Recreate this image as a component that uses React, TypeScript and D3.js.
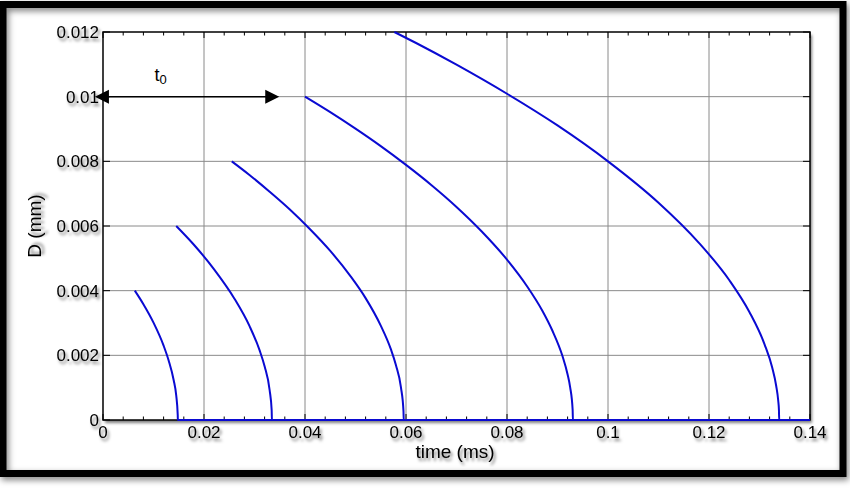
import React, { useRef, useEffect } from "react";
import * as d3 from "d3";

// droplet diameter vs time: [time (ms), D (mm)]
const curve1 = [
  [0.0063, 0.004], [0.008, 0.00358], [0.01, 0.00301], [0.012, 0.0023], [0.013, 0.00184],
  [0.014, 0.00123], [0.0145, 0.00076], [0.0148, 0.00015], [0.01482, 0], [0.14, 0],
];
const curve2 = [
  [0.0145, 0.006], [0.018, 0.00542], [0.022, 0.00466], [0.026, 0.00376], [0.029, 0.00291],
  [0.031, 0.00216], [0.032, 0.00166], [0.033, 0.00092], [0.0334, 0.0003], [0.03345, 0], [0.14, 0],
];
const curve3 = [
  [0.0255, 0.008], [0.029, 0.00758], [0.033, 0.00706], [0.037, 0.00651], [0.041, 0.0059],
  [0.045, 0.00523], [0.049, 0.00445], [0.052, 0.00377], [0.055, 0.00292], [0.057, 0.00219],
  [0.058, 0.0017], [0.059, 0.00101], [0.0595, 0.00028], [0.05955, 0], [0.14, 0],
];
const curve4 = [
  [0.04, 0.01], [0.045, 0.00952], [0.05, 0.00901], [0.055, 0.00847], [0.06, 0.00789],
  [0.065, 0.00727], [0.07, 0.00659], [0.075, 0.00583], [0.08, 0.00496], [0.084, 0.00413],
  [0.087, 0.00338], [0.089, 0.00276], [0.091, 0.00197], [0.092, 0.00141], [0.0925, 0.00102],
  [0.093, 0.00031], [0.09305, 0], [0.14, 0],
];
const curve5 = [
  [0.0577, 0.012], [0.062, 0.01166], [0.07, 0.01099], [0.08, 0.01009], [0.09, 0.00911],
  [0.1, 0.008], [0.11, 0.00672], [0.118, 0.00548], [0.124, 0.00433], [0.128, 0.00334],
  [0.131, 0.00234], [0.1325, 0.00163], [0.1333, 0.00106], [0.1337, 0.00061], [0.13385, 0.00031],
  [0.1339, 0], [0.14, 0],
];
const curves = [curve1, curve2, curve3, curve4, curve5];

const xTicks = [0, 0.02, 0.04, 0.06, 0.08, 0.1, 0.12, 0.14];
const xTickLabels = ["0", "0.02", "0.04", "0.06", "0.08", "0.1", "0.12", "0.14"];
const yTicks = [0, 0.002, 0.004, 0.006, 0.008, 0.01, 0.012];
const yTickLabels = ["0", "0.002", "0.004", "0.006", "0.008", "0.01", "0.012"];

// the t0 arrow, in data units
const arrowStart = [-0.0016, 0.01];
const arrowEnd = [0.0349, 0.01];
const arrowLabelAt = [0.0102, 0.0105];

function App() {
  const svgRef = useRef(null);

  useEffect(() => {
    const svg = d3.select(svgRef.current);
    svg.selectAll("*").remove();
    const font = "'Liberation Sans', Arial, Helvetica, sans-serif";

    const x = d3.scaleLinear().domain([0, 0.14]).range([103, 810]);
    const y = d3.scaleLinear().domain([0, 0.012]).range([420, 32]);

    const defs = svg.append("defs");
    defs.append("filter").attr("id", "sh")
      .attr("x", "-20%").attr("y", "-20%").attr("width", "140%").attr("height", "140%")
      .append("feDropShadow")
      .attr("dx", 2).attr("dy", 3).attr("stdDeviation", 1.8)
      .attr("flood-color", "#000").attr("flood-opacity", 0.5);
    defs.append("filter").attr("id", "frameSh")
      .attr("x", "-5%").attr("y", "-5%").attr("width", "110%").attr("height", "110%")
      .append("feDropShadow")
      .attr("dx", 2).attr("dy", 3).attr("stdDeviation", 3)
      .attr("flood-color", "#000").attr("flood-opacity", 0.5);

    svg.append("rect").attr("width", 850).attr("height", 488).attr("fill", "#fff");

    // outer frame
    svg.append("rect")
      .attr("x", 3).attr("y", 4.5).attr("width", 840).attr("height", 469)
      .attr("fill", "none").attr("stroke", "#000").attr("stroke-width", 7)
      .attr("filter", "url(#frameSh)");

    // plot background with shadow
    svg.append("rect")
      .attr("x", x(0)).attr("y", y(0.012))
      .attr("width", x(0.14) - x(0)).attr("height", y(0) - y(0.012))
      .attr("fill", "#fff").attr("filter", "url(#sh)");

    // grid
    svg.append("g").selectAll("line")
      .data(xTicks.slice(1, -1))
      .join("line")
      .attr("x1", d => x(d)).attr("x2", d => x(d))
      .attr("y1", y(0)).attr("y2", y(0.012))
      .attr("stroke", "#8a8a8a").attr("stroke-width", 1);
    svg.append("g").selectAll("line")
      .data(yTicks.slice(1, -1))
      .join("line")
      .attr("y1", d => y(d)).attr("y2", d => y(d))
      .attr("x1", x(0)).attr("x2", x(0.14))
      .attr("stroke", "#8a8a8a").attr("stroke-width", 1);

    // ticks (inward, all four sides)
    const ticks = svg.append("g").attr("stroke", "#000").attr("stroke-width", 1);
    const minorX = d3.range(0, 0.1401, 0.004);
    minorX.forEach(t => {
      const major = xTicks.some(v => Math.abs(v - t) < 1e-9);
      const len = major ? 6 : 3.5;
      ticks.append("line").attr("x1", x(t)).attr("x2", x(t)).attr("y1", y(0)).attr("y2", y(0) - len);
      ticks.append("line").attr("x1", x(t)).attr("x2", x(t)).attr("y1", y(0.012)).attr("y2", y(0.012) + len);
    });
    yTicks.forEach(v => {
      ticks.append("line").attr("x1", x(0)).attr("x2", x(0) + 7).attr("y1", y(v)).attr("y2", y(v));
      ticks.append("line").attr("x1", x(0.14)).attr("x2", x(0.14) - 7).attr("y1", y(v)).attr("y2", y(v));
    });

    // axis box
    svg.append("rect")
      .attr("x", x(0)).attr("y", y(0.012))
      .attr("width", x(0.14) - x(0)).attr("height", y(0) - y(0.012))
      .attr("fill", "none").attr("stroke", "#000").attr("stroke-width", 1.5);

    // tick labels
    const labels = svg.append("g")
      .attr("font-family", font).attr("font-size", 17).attr("fill", "#000")
      .attr("filter", "url(#sh)");
    labels.selectAll(".xl")
      .data(xTicks)
      .join("text")
      .attr("class", "xl")
      .attr("x", d => x(d)).attr("y", 438)
      .attr("text-anchor", "middle")
      .text((d, i) => xTickLabels[i]);
    labels.selectAll(".yl")
      .data(yTicks)
      .join("text")
      .attr("class", "yl")
      .attr("x", 99).attr("y", d => y(d) + 6)
      .attr("text-anchor", "end")
      .text((d, i) => yTickLabels[i]);

    // axis titles
    svg.append("text")
      .attr("x", 455).attr("y", 458)
      .attr("text-anchor", "middle")
      .attr("font-family", font).attr("font-size", 19)
      .attr("filter", "url(#sh)")
      .text("time (ms)");
    svg.append("text")
      .attr("transform", "translate(41,226) rotate(-90)")
      .attr("text-anchor", "middle")
      .attr("font-family", font).attr("font-size", 19)
      .attr("filter", "url(#sh)")
      .text("D (mm)");

    // curves
    const line = d3.line()
      .x(d => x(d[0]))
      .y(d => y(d[1]))
      .curve(d3.curveMonotoneX);
    svg.append("g").selectAll("path")
      .data(curves)
      .join("path")
      .attr("d", line)
      .attr("fill", "none")
      .attr("stroke", "#0a0ad2")
      .attr("stroke-width", 2)
      .attr("stroke-linejoin", "round");

    // t0 arrow
    const ax1 = x(arrowStart[0]), ax2 = x(arrowEnd[0]), ay = y(arrowStart[1]);
    const head = 14, hw = 7;
    svg.append("line")
      .attr("x1", ax1 + head - 2).attr("x2", ax2 - head + 2)
      .attr("y1", ay).attr("y2", ay)
      .attr("stroke", "#000").attr("stroke-width", 1.5);
    svg.append("path")
      .attr("d", `M${ax1},${ay}L${ax1 + head},${ay - hw}L${ax1 + head},${ay + hw}Z`)
      .attr("fill", "#000");
    svg.append("path")
      .attr("d", `M${ax2},${ay}L${ax2 - head},${ay - hw}L${ax2 - head},${ay + hw}Z`)
      .attr("fill", "#000");
    const t0 = svg.append("text")
      .attr("x", x(arrowLabelAt[0])).attr("y", y(arrowLabelAt[1]))
      .attr("font-family", font).attr("font-size", 18);
    t0.append("tspan").text("t");
    t0.append("tspan").attr("dy", 3).attr("font-size", 13).text("0");
  }, []);

  return (
    <div style={{ position: "absolute", left: 0, top: 0 }}>
      <svg ref={svgRef} width={850} height={488} style={{ display: "block" }}></svg>
    </div>
  );
}

export default App;
